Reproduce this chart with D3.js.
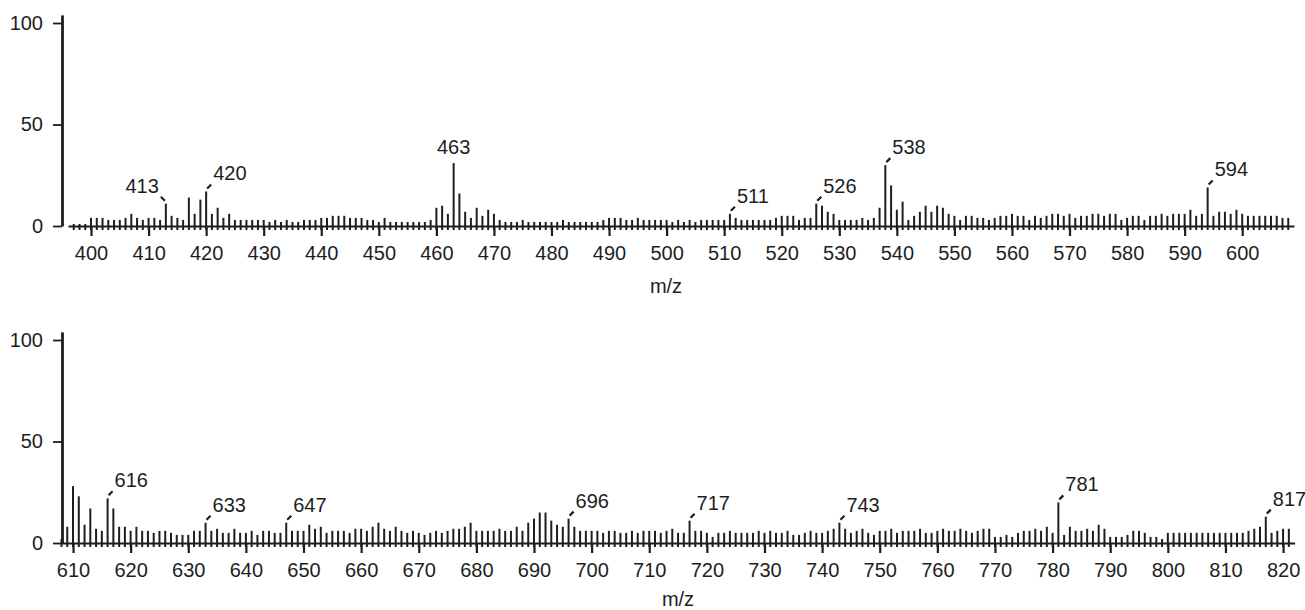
<!DOCTYPE html>
<html lang="en">
<head>
<meta charset="UTF-8">
<title>Mass spectrum</title>
<style>
  body { margin: 0; background: #fff; }
  svg { display: block; font-family: "Liberation Sans", Arial, sans-serif; }
  .axis path, .axis line { stroke: #1e1e1e; }
  .axis text { font-size: 20px; fill: #1e1e1e; font-family: "Liberation Sans", Arial, sans-serif; }
  .peak { stroke: #1e1e1e; stroke-width: 2px; }
  .plabel { font-size: 20px; fill: #1e1e1e; }
  .dash { stroke: #1e1e1e; stroke-width: 2.2px; }
</style>
</head>
<body>
<script src="https://cdn.jsdelivr.net/npm/d3@7"></script>
<script>
// top panel, first m/z then one relative intensity (%) per unit mass
var topStart = 397;
var topIntensity = [
  1, 1, 1,
  4, 4, 4, 3, 3, 3, 4, 6, 4, 3,
  4, 4, 3, 11, 5, 4, 3, 14, 6, 13,
  17, 6, 9, 4, 6, 3, 3, 3, 3, 3,
  3, 2, 3, 2, 3, 2, 2, 3, 3, 3,
  4, 4, 5, 5, 5, 4, 4, 4, 3, 3,
  2, 4, 2, 2, 2, 2, 2, 2, 2, 3,
  9, 10, 6, 31, 16, 7, 4, 9, 5, 8,
  6, 3, 2, 2, 2, 3, 2, 2, 2, 2,
  2, 2, 3, 2, 2, 2, 2, 2, 2, 3,
  4, 4, 4, 3, 3, 4, 3, 3, 3, 3,
  3, 2, 3, 2, 3, 2, 3, 3, 3, 3,
  3, 6, 4, 3, 3, 3, 3, 3, 3, 4,
  5, 5, 5, 3, 4, 4, 11, 10, 7, 6,
  3, 3, 3, 3, 4, 3, 4, 9, 30, 20,
  8, 12, 3, 5, 7, 10, 7, 10, 9, 6,
  5, 3, 5, 5, 4, 4, 3, 4, 5, 5,
  6, 5, 5, 3, 5, 4, 5, 6, 6, 5,
  6, 4, 5, 5, 6, 6, 5, 6, 6, 3,
  4, 5, 5, 3, 5, 5, 6, 5, 6, 6,
  6, 8, 5, 6, 19, 5, 7, 7, 6, 8,
  6, 5, 5, 5, 5, 5, 5, 4, 4
];

// bottom panel
var bottomStart = 608;
var bottomIntensity = [
  2, 8,
  28, 23, 9, 17, 7, 6, 22, 17, 8, 8,
  6, 8, 6, 6, 5, 6, 6, 5, 4, 4,
  4, 6, 6, 10, 6, 7, 5, 5, 7, 5,
  5, 6, 4, 6, 6, 5, 5, 10, 6, 6,
  6, 9, 7, 8, 5, 6, 6, 6, 5, 7,
  7, 6, 8, 10, 7, 6, 8, 6, 5, 6,
  5, 4, 5, 6, 5, 6, 7, 7, 8, 10,
  6, 6, 6, 6, 7, 6, 6, 8, 6, 10,
  12, 15, 15, 11, 9, 8, 12, 8, 6, 6,
  6, 6, 5, 6, 6, 5, 5, 6, 5, 6,
  6, 6, 5, 6, 7, 5, 5, 11, 6, 6,
  5, 3, 5, 5, 6, 5, 5, 5, 5, 6,
  5, 6, 5, 5, 6, 4, 4, 5, 6, 5,
  5, 6, 7, 10, 7, 5, 6, 7, 5, 4,
  6, 6, 7, 5, 6, 6, 6, 7, 5, 5,
  6, 7, 6, 6, 7, 6, 5, 6, 7, 7,
  3, 3, 4, 3, 5, 6, 6, 7, 6, 8,
  5, 20, 4, 8, 6, 6, 7, 6, 9, 7,
  3, 3, 3, 4, 6, 6, 5, 3, 3, 2,
  5, 5, 5, 5, 5, 5, 5, 5, 5, 5,
  5, 5, 5, 5, 6, 7, 8, 13, 5, 6,
  7, 7
];

var topTicks = [400, 410, 420, 430, 440, 450, 460, 470, 480, 490, 500,
  510, 520, 530, 540, 550, 560, 570, 580, 590, 600];
var bottomTicks = [610, 620, 630, 640, 650, 660, 670, 680, 690, 700, 710,
  720, 730, 740, 750, 760, 770, 780, 790, 800, 810, 820];
var yTicks = [0, 50, 100];

var topLabels = [413, 420, 463, 511, 526, 538, 594];
var bottomLabels = [616, 633, 647, 696, 717, 743, 781, 817];

var svg = d3.select("body").append("svg")
  .attr("width", 1305)
  .attr("height", 610);

function drawPanel(p) {
  var data = p.values.map(function (v, i) { return { mz: p.start + i, v: v }; });

  var x = d3.scaleLinear().domain(p.xDomain).range(p.xRange);
  var y = d3.scaleLinear().domain([0, 104]).range([p.y0, p.y0 - 104 * 2.03]);

  var g = svg.append("g");

  // peaks (they poke a little under the baseline, as in the scan)
  g.selectAll(".peak")
    .data(data)
    .enter().append("line")
    .attr("class", "peak")
    .attr("x1", function (d) { return x(d.mz); })
    .attr("x2", function (d) { return x(d.mz); })
    .attr("y1", y(0) + 4)
    .attr("y2", function (d) { return y(d.v); });

  // x axis
  var xa = g.append("g")
    .attr("class", "axis")
    .attr("transform", "translate(0," + y(0) + ")")
    .call(d3.axisBottom(x).tickValues(p.ticks).tickSize(10).tickSizeOuter(0).tickPadding(10));
  xa.select(".domain").style("stroke-width", "2.2px");
  xa.selectAll(".tick line").style("stroke-width", "2.2px");

  // y axis
  var ya = g.append("g")
    .attr("class", "axis")
    .attr("transform", "translate(" + p.yAxisX + ",0)")
    .call(d3.axisLeft(y).tickValues(yTicks).tickSize(9).tickSizeOuter(0).tickPadding(10));
  ya.select(".domain").style("stroke-width", "2.8px");
  ya.selectAll(".tick line").style("stroke-width", "1.8px");

  // axis title
  g.append("text")
    .attr("class", "plabel")
    .attr("x", p.titleX)
    .attr("y", p.titleY)
    .attr("text-anchor", "middle")
    .text("m/z");

  // peak labels
  p.labels.forEach(function (mz) {
    var d = data[mz - p.start];
    var px = x(mz), py = y(d.v);
    var side = p.side[mz] || "right";
    if (side === "center") {
      g.append("text").attr("class", "plabel")
        .attr("x", px).attr("y", py - 9)
        .attr("text-anchor", "middle").text(mz);
      return;
    }
    var s = side === "left" ? -1 : 1;
    g.append("line").attr("class", "dash")
      .attr("x1", px + s * 1).attr("y1", py - 3)
      .attr("x2", px + s * 5).attr("y2", py - 7);
    g.append("text").attr("class", "plabel")
      .attr("x", px + s * 7).attr("y", py - 11)
      .attr("text-anchor", s < 0 ? "end" : "start")
      .text(mz);
  });
}

drawPanel({
  start: topStart, values: topIntensity, ticks: topTicks, labels: topLabels,
  side: { 413: "left", 463: "center" },
  xDomain: [396, 609], xRange: [68, 1294], y0: 226, yAxisX: 62,
  titleX: 666, titleY: 293
});

drawPanel({
  start: bottomStart, values: bottomIntensity, ticks: bottomTicks, labels: bottomLabels,
  side: {},
  xDomain: [608, 822], xRange: [61.5, 1294.6], y0: 543, yAxisX: 62,
  titleX: 678, titleY: 606
});
</script>
</body>
</html>
